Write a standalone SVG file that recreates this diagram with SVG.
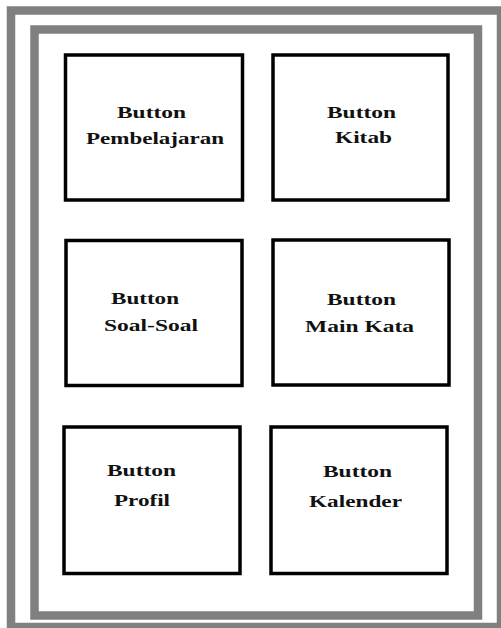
<svg xmlns="http://www.w3.org/2000/svg" width="501" height="628" viewBox="0 0 501 628">
<style>
.frame{fill:none;stroke:#808080;stroke-width:8.5}
.box{fill:#fff;stroke:#000;stroke-width:3.5}
.lbl{font-family:"Liberation Serif","Times New Roman",serif;font-weight:bold;font-size:17px;fill:#111}
</style>
<rect width="501" height="628" fill="#fff"/>
<g id="frames">
<rect class="frame" x="11" y="10.5" width="490" height="616.5"/>
<rect class="frame" x="34.5" y="29.5" width="443.5" height="586"/>
</g>
<g id="connectors"/>
<g id="btn-pembelajaran">
<rect class="box" x="65.5" y="55" width="177" height="145"/>
<text class="lbl" x="117" y="118" textLength="69" lengthAdjust="spacingAndGlyphs">Button</text>
<text class="lbl" x="86" y="144" textLength="138" lengthAdjust="spacingAndGlyphs">Pembelajaran</text>
</g>
<g id="btn-kitab">
<rect class="box" x="273" y="55" width="175" height="145"/>
<text class="lbl" x="327" y="118" textLength="69" lengthAdjust="spacingAndGlyphs">Button</text>
<text class="lbl" x="335" y="143" textLength="57" lengthAdjust="spacingAndGlyphs">Kitab</text>
</g>
<g id="btn-soal">
<rect class="box" x="66" y="240.5" width="176" height="145"/>
<text class="lbl" x="111" y="304" textLength="68" lengthAdjust="spacingAndGlyphs">Button</text>
<text class="lbl" x="104" y="331" textLength="94" lengthAdjust="spacingAndGlyphs">Soal-Soal</text>
</g>
<g id="btn-mainkata">
<rect class="box" x="273" y="240" width="176" height="145"/>
<text class="lbl" x="327" y="305" textLength="69" lengthAdjust="spacingAndGlyphs">Button</text>
<text class="lbl" x="305" y="332" textLength="109" lengthAdjust="spacingAndGlyphs">Main Kata</text>
</g>
<g id="btn-profil">
<rect class="box" x="64" y="427" width="176" height="146.5"/>
<text class="lbl" x="107" y="476" textLength="69" lengthAdjust="spacingAndGlyphs">Button</text>
<text class="lbl" x="114" y="506" textLength="56" lengthAdjust="spacingAndGlyphs">Profil</text>
</g>
<g id="btn-kalender">
<rect class="box" x="271" y="427" width="176" height="146.5"/>
<text class="lbl" x="323" y="477" textLength="69" lengthAdjust="spacingAndGlyphs">Button</text>
<text class="lbl" x="309" y="507" textLength="93" lengthAdjust="spacingAndGlyphs">Kalender</text>
</g>
</svg>
